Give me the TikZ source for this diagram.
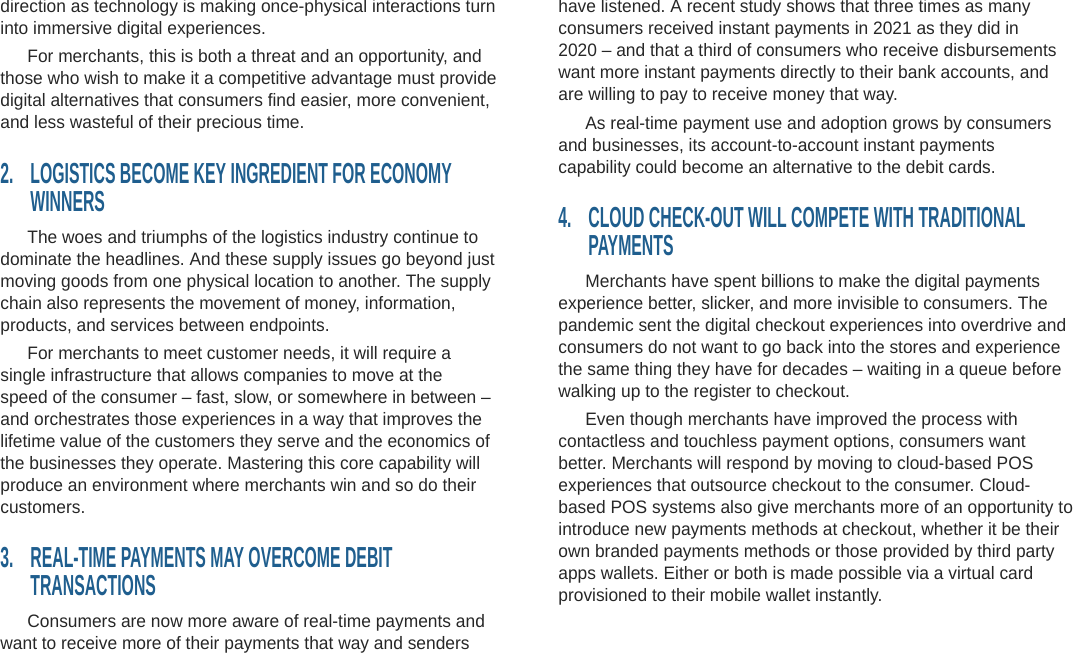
\documentclass[tikz,border=0pt]{standalone}
\usepackage{fontspec}
\setmainfont[FakeStretch=0.965]{Liberation Sans}
\newfontfamily\headfont[FakeStretch=0.545]{Liberation Sans}
\definecolor{headblue}{HTML}{1F5E8E}
\tikzset{
  body/.style={anchor=north west,inner sep=0pt,align=left,
    font=\fontsize{9}{11}\selectfont,text=black!85},
  head/.style={anchor=north west,inner sep=0pt,align=left,
    font=\headfont\bfseries\fontsize{14.5}{14}\selectfont,text=headblue},
}
\newcommand{\ind}{\hspace*{13.5pt}}
\frenchspacing
\begin{document}
\begin{tikzpicture}[x=0.5pt,y=-0.5pt]
\useasboundingbox (0,0) rectangle (1080,657);
% left column
\node[body] (pA) at (0,-1) {direction as technology is making once-physical interactions turn\\into immersive digital experiences.};
\node[body] (pB) at (0,49) {\ind For merchants, this is both a threat and an opportunity, and\\those who wish to make it a competitive advantage must provide\\digital alternatives that consumers find easier, more convenient,\\and less wasteful of their precious time.};
\node[head] (hnA) at (0,163) {2.};
\node[head] (hA) at (30,163) {LOGISTICS BECOME KEY INGREDIENT FOR ECONOMY\\WINNERS};
\node[body] (pC) at (0,230) {\ind The woes and triumphs of the logistics industry continue to\\dominate the headlines. And these supply issues go beyond just\\moving goods from one physical location to another. The supply\\chain also represents the movement of money, information,\\products, and services between endpoints.};
\node[body] (pD) at (0,346) {\ind For merchants to meet customer needs, it will require a\\single infrastructure that allows companies to move at the\\speed of the consumer -- fast, slow, or somewhere in between --\\and orchestrates those experiences in a way that improves the\\lifetime value of the customers they serve and the economics of\\the businesses they operate. Mastering this core capability will\\produce an environment where merchants win and so do their\\customers.};
\node[head] (hnB) at (0,547) {3.};
\node[head] (hB) at (30,547) {REAL-TIME PAYMENTS MAY OVERCOME DEBIT\\TRANSACTIONS};
\node[body] (pE) at (0,614) {\ind Consumers are now more aware of real-time payments and\\want to receive more of their payments that way and senders};
% right column
\node[body] (pF) at (558,-1) {have listened. A recent study shows that three times as many\\consumers received instant payments in 2021 as they did in\\2020 -- and that a third of consumers who receive disbursements\\want more instant payments directly to their bank accounts, and\\are willing to pay to receive money that way.};
\node[body] (pG) at (558,116) {\ind As real-time payment use and adoption grows by consumers\\and businesses, its account-to-account instant payments\\capability could become an alternative to the debit cards.};
\node[head] (hnC) at (558,207) {4.};
\node[head] (hC) at (588,207) {CLOUD CHECK-OUT WILL COMPETE WITH TRADITIONAL\\PAYMENTS};
\node[body] (pH) at (558,274) {\ind Merchants have spent billions to make the digital payments\\experience better, slicker, and more invisible to consumers. The\\pandemic sent the digital checkout experiences into overdrive and\\consumers do not want to go back into the stores and experience\\the same thing they have for decades -- waiting in a queue before\\walking up to the register to checkout.};
\node[body] (pI) at (558,412) {\ind Even though merchants have improved the process with\\contactless and touchless payment options, consumers want\\better. Merchants will respond by moving to cloud-based POS\\experiences that outsource checkout to the consumer. Cloud-\\based POS systems also give merchants more of an opportunity to\\introduce new payments methods at checkout, whether it be their\\own branded payments methods or those provided by third party\\apps wallets. Either or both is made possible via a virtual card\\provisioned to their mobile wallet instantly.};
\end{tikzpicture}
\end{document}
